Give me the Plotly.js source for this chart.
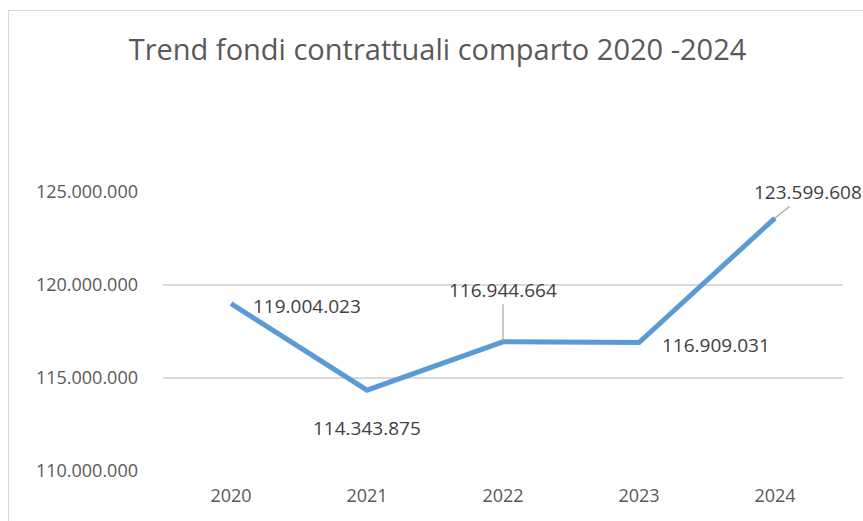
<!DOCTYPE html>
<html>
<head>
<meta charset="utf-8">
<script src="https://cdn.plot.ly/plotly-3.0.1.min.js"></script>
<style>
html,body{margin:0;padding:0;background:#fff;}
#frame{position:absolute;left:8px;top:10px;width:900px;height:600px;border:1px solid #d9d9d9;box-sizing:border-box;}
#chart{position:absolute;left:0;top:0;width:863px;height:521px;}
</style>
</head>
<body>
<div id="frame"></div>
<div id="chart"></div>
<script>
const years = ["2020","2021","2022","2023","2024"];
const values = [119004023, 114343875, 116944664, 116909031, 123599608];
const labels = ["119.004.023","114.343.875","116.944.664","116.909.031","123.599.608"];
const yTickVals = [110000000,115000000,120000000,125000000];
const yTickText = ["110.000.000","115.000.000","120.000.000","125.000.000"];

const labelFont = {family:"Open Sans, sans-serif", size:19, color:"#404040"};
const place = [
  {arrow:false, xshift:20, yshift:-2, xanchor:"left"},
  {arrow:false, xshift:0, yshift:-38, xanchor:"center"},
  {arrow:true, ax:0, ay:-52},
  {arrow:false, xshift:21, yshift:-3, xanchor:"left"},
  {arrow:true, ax:33, ay:-26}
];
const annotations = values.map((v,i)=>{
  const p = place[i];
  const a = {x:i, y:v, xref:"x", yref:"y", text:labels[i], font:labelFont};
  if (p.arrow){
    Object.assign(a,{showarrow:true, ax:p.ax, ay:p.ay, arrowhead:0, arrowwidth:1.2, arrowcolor:"#a6a6a6", standoff:0, xanchor:"center", yanchor:"middle"});
  } else {
    Object.assign(a,{showarrow:false, xshift:p.xshift, yshift:p.yshift, xanchor:p.xanchor});
  }
  return a;
});

const trace = {
  x: years.map((_,i)=>i), y: values, type:"scatter", mode:"lines",
  line:{color:"#5B9BD5", width:5}, hoverinfo:"skip", cliponaxis:false
};
const tickFont = {family:"Open Sans, sans-serif", size:18, color:"#595959"};
const layout = {
  width:863, height:521,
  margin:{l:163, r:20, t:192, b:50},
  paper_bgcolor:"rgba(0,0,0,0)", plot_bgcolor:"rgba(0,0,0,0)",
  title:{text:"Trend fondi contrattuali comparto 2020 -2024", x:0.507, xanchor:"center", y:0.905, yanchor:"middle",
    font:{family:"Open Sans, sans-serif", size:29, color:"#595959"}},
  showlegend:false,
  xaxis:{range:[-0.5,4.5], tickvals:[0,1,2,3,4], ticktext:years, showgrid:false, zeroline:false, showline:false,
    ticks:"", ticklabelstandoff:12, tickfont:tickFont},
  yaxis:{range:[110000000,125000000], tickvals:yTickVals, ticktext:yTickText, showgrid:true, gridcolor:"#d9d9d9", gridwidth:1.2,
    zeroline:false, showline:false, ticks:"", ticklabelstandoff:24, tickfont:tickFont},
  annotations: annotations
};
Plotly.newPlot("chart",[trace],layout,{displayModeBar:false, staticPlot:true});
</script>
</body>
</html>
